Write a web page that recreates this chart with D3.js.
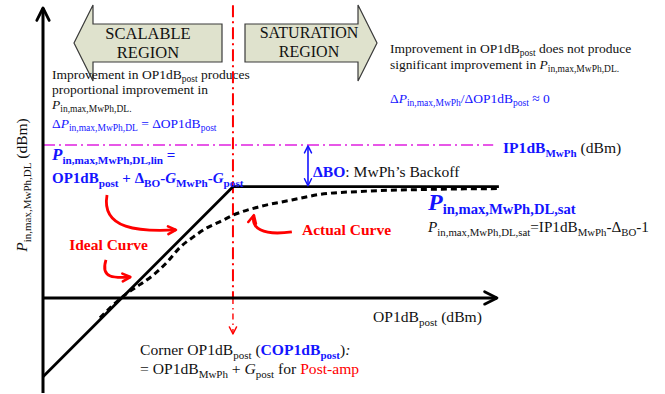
<!DOCTYPE html>
<html>
<head>
<meta charset="utf-8">
<script src="https://cdn.jsdelivr.net/npm/d3@7"></script>
<style>
  html, body { margin: 0; padding: 0; background: #fff; }
  svg { display: block; }
  svg text { font-family: "Liberation Serif", "Times New Roman", Tinos, "DejaVu Serif", serif; }
</style>
</head>
<body>
<svg id="chart" width="665" height="394"></svg>
<script>
// Axis extents (arbitrary dB units)
const opDomain = [0, 47.8];        // OP1dB_post axis
const pinDomain = [-10, 30.5];     // P_in,max,MwPh,DL axis

// Ideal (piecewise) transfer: linear region up to the corner, then flat
const idealOp  = [0, 20, 48];
const idealPin = [-8.3, 11.7, 11.7];

// Actual (soft-compressing) transfer
const actualOp  = [6.0, 8.6, 10.2, 11.6, 13.1, 14.4, 15.8, 17.3, 18.6, 20.0, 22.8, 26.2, 29.2, 33.4, 39.7, 47.9];
const actualPin = [-2.1, 0.3, 1.4, 2.4, 3.8, 5.3, 6.4, 7.4, 8.0, 8.7, 9.6, 10.3, 10.9, 11.2, 11.4, 11.5];

// Reference levels
const cornerOp = 20;      // COP1dB_post
const ip1dbLevel = 16.1;  // IP1dB_MwPh
const satLevel = 11.7;    // P_in,max,MwPh,DL,sat

const svg = d3.select("#chart");
const x = d3.scaleLinear().domain(opDomain).range([43, 497]);
const y = d3.scaleLinear().domain(pinDomain).range([393, 8]);

const BLUE = "#1414ff";
const RED = "#ff0000";
const MAGENTA = "#e020e0";

// ---------- markers ----------
const defs = svg.append("defs");
function chevron(id, color, size, sw) {
  defs.append("marker")
    .attr("id", id)
    .attr("viewBox", `0 0 ${size} ${size}`)
    .attr("refX", size - sw).attr("refY", size / 2)
    .attr("markerWidth", size).attr("markerHeight", size)
    .attr("markerUnits", "userSpaceOnUse")
    .attr("orient", "auto-start-reverse")
    .append("path")
    .attr("d", `M${sw},${sw} L${size - sw},${size / 2} L${sw},${size - sw}`)
    .attr("fill", "none").attr("stroke", color)
    .attr("stroke-width", sw).attr("stroke-linecap", "round").attr("stroke-linejoin", "round");
}
chevron("axArrow", "#000", 18, 2.8);
chevron("redArrow", RED, 13, 2.6);
chevron("redThin", RED, 10, 1.4);
chevron("blueArrow", BLUE, 10, 1.5);

// ---------- region banners ----------
function banner(x0, x1, dir) {
  // body 24..62, head 5..81, head length 19
  const top = 24, bot = 62, hTop = 5, hBot = 81, mid = 43, hl = 19;
  let pts;
  if (dir < 0) {
    pts = [[x0, mid], [x0 + hl, hTop], [x0 + hl, top], [x1, top], [x1, bot], [x0 + hl, bot], [x0 + hl, hBot]];
  } else {
    pts = [[x0, top], [x1 - hl, top], [x1 - hl, hTop], [x1, mid], [x1 - hl, hBot], [x1 - hl, bot], [x0, bot]];
  }
  svg.append("path")
    .attr("d", d3.line()(pts) + "Z")
    .attr("fill", "#dfe2cd").attr("stroke", "#3a3a3a").attr("stroke-width", 1.2);
}
banner(74, 222, -1);
banner(245, 377, 1);

function centered(xp, yp, str, fs) {
  svg.append("text").attr("x", xp).attr("y", yp)
    .attr("text-anchor", "middle")
    .attr("font-size", fs).attr("fill", "#111").text(str);
}
centered(148, 39, "SCALABLE", 16.5);
centered(148, 58, "REGION", 16.5);
centered(309, 38, "SATURATION", 16);
centered(309, 57, "REGION", 16);

// ---------- rich text helper ----------
function rich(xp, yp, parts, base, anchor, rotate) {
  const t = svg.append("text")
    .attr("font-size", base.fs)
    .attr("fill", base.c || "#111")
    .attr("text-anchor", anchor || "start");
  if (rotate) t.attr("transform", `translate(${xp},${yp}) rotate(${rotate})`);
  else t.attr("x", xp).attr("y", yp);
  let cur = 0;
  parts.forEach(p => {
    const fs = p.fs || (p.sub ? (base.sfs || base.fs * 0.72) : base.fs);
    const target = p.sub ? (base.off || base.fs * 0.22) : 0;
    const s = t.append("tspan").text(p.t)
      .attr("font-size", fs)
      .attr("dy", target - cur);
    cur = target;
    if (p.b || base.b) s.attr("font-weight", "bold");
    if (p.i) s.attr("font-style", "italic");
    if (p.c) s.attr("fill", p.c);
  });
  return t;
}

// ---------- explanatory paragraphs ----------
const para = { fs: 13.5, sfs: 9.5, off: 3 };
rich(52, 79, [{ t: "Improvement in OP1dB" }, { t: "post", sub: 1 }, { t: " produces" }], para);
rich(52, 94, [{ t: "proportional improvement in" }], para);
rich(52, 109, [{ t: "P", i: 1 }, { t: "in,max,MwPh,DL", sub: 1 }, { t: ".", sub: 1 }], para);
rich(52, 128, [{ t: "Δ" }, { t: "P", i: 1 }, { t: "in,max,MwPh,DL", sub: 1 }, { t: " = ΔOP1dB" }, { t: "post", sub: 1 }],
  Object.assign({ c: BLUE }, para));

rich(390, 53, [{ t: "Improvement in OP1dB" }, { t: "post", sub: 1 }, { t: " does not produce" }], para);
rich(390, 69, [{ t: "significant  improvement in " }, { t: "P", i: 1 }, { t: "in,max,MwPh,DL", sub: 1 }, { t: ".", sub: 1 }], para);
rich(390, 103, [{ t: "Δ" }, { t: "P", i: 1 }, { t: "in,max,MwPh", sub: 1 }, { t: "/ΔOP1dB" }, { t: "post", sub: 1 }, { t: " ≈ 0" }],
  Object.assign({ c: BLUE }, para));

// ---------- reference lines ----------
// IP1dB level (dash-dot)
svg.append("line")
  .attr("x1", x(0)).attr("x2", x(47.4))
  .attr("y1", y(ip1dbLevel)).attr("y2", y(ip1dbLevel))
  .attr("stroke", MAGENTA).attr("stroke-width", 1.5)
  .attr("stroke-dasharray", "12,4,2,4");

// corner OP1dB (dash-dot, red)
svg.append("line")
  .attr("x1", x(cornerOp)).attr("x2", x(cornerOp))
  .attr("y1", y(30.8)).attr("y2", y(0))
  .attr("stroke", RED).attr("stroke-width", 2)
  .attr("stroke-dasharray", "12,4,2,4");
svg.append("line")
  .attr("x1", x(cornerOp)).attr("x2", x(cornerOp))
  .attr("y1", y(0)).attr("y2", y(-3.8))
  .attr("stroke", RED).attr("stroke-width", 1.4)
  .attr("stroke-dasharray", "6,4,1.5,4")
  .attr("marker-end", "url(#redThin)");

// ---------- axes ----------
svg.append("line")
  .attr("x1", x(0)).attr("x2", x(0))
  .attr("y1", y(pinDomain[0])).attr("y2", y(pinDomain[1]))
  .attr("stroke", "#000").attr("stroke-width", 3)
  .attr("marker-end", "url(#axArrow)");
svg.append("line")
  .attr("x1", x(0)).attr("x2", x(opDomain[1]))
  .attr("y1", y(0)).attr("y2", y(0))
  .attr("stroke", "#000").attr("stroke-width", 3)
  .attr("marker-end", "url(#axArrow)");

// ---------- curves ----------
const line = d3.line().x(d => x(d[0])).y(d => y(d[1]));
svg.append("path")
  .attr("d", line(idealOp.map((v, i) => [v, idealPin[i]])))
  .attr("fill", "none").attr("stroke", "#000").attr("stroke-width", 2.8)
  .attr("stroke-linejoin", "round");

svg.append("path")
  .attr("d", line.curve(d3.curveMonotoneX)(actualOp.map((v, i) => [v, actualPin[i]])))
  .attr("fill", "none").attr("stroke", "#000").attr("stroke-width", 3)
  .attr("stroke-dasharray", "6,4");

// backoff double arrow
const boOp = 27.9;
svg.append("line")
  .attr("x1", x(boOp)).attr("x2", x(boOp))
  .attr("y1", y(ip1dbLevel) + 1).attr("y2", y(satLevel) - 1)
  .attr("stroke", BLUE).attr("stroke-width", 1.6)
  .attr("marker-start", "url(#blueArrow)")
  .attr("marker-end", "url(#blueArrow)");

// ---------- curved annotation arrows ----------
const pointers = [
  [[6.74, 10.84], [6.1, 7.2], [10.2, 6.95], [14.0, 7.16]],
  [[6.63, 4.0], [6.0, 2.0], [7.6, 2.1], [9.2, 2.2]],
  [[26.2, 6.95], [23.0, 6.5], [21.9, 7.4], [22.2, 8.7]]
];
pointers.forEach(p => {
  const q = p.map(d => [x(d[0]), y(d[1])]);
  svg.append("path")
    .attr("d", `M${q[0]}C${q[1]} ${q[2]} ${q[3]}`)
    .attr("fill", "none").attr("stroke", RED).attr("stroke-width", 2.8)
    .attr("marker-end", "url(#redArrow)");
});

// ---------- labels ----------
const lin = { fs: 15, sfs: 11.2, off: 4, b: 1, c: BLUE };
rich(52, 160, [{ t: "P", i: 1, fs: 17 }, { t: "in,max,MwPh,DL,lin", sub: 1 }, { t: " =" }], lin);
rich(52, 183, [{ t: "OP1dB" }, { t: "post", sub: 1 }, { t: " + Δ" }, { t: "BO", sub: 1 }, { t: "-" },
  { t: "G", i: 1 }, { t: "MwPh", sub: 1 }, { t: "-" }, { t: "G", i: 1 }, { t: "post", sub: 1 }], lin);

const lab = { fs: 15.6, sfs: 11, off: 3.5 };
rich(503, 153, [{ t: "IP1dB", b: 1, c: BLUE }, { t: "MwPh", sub: 1, b: 1, c: BLUE }, { t: " (dBm)" }], lab);
rich(313, 177, [{ t: "ΔBO", b: 1, c: BLUE }, { t: ": MwPh’s Backoff" }], lab);

rich(428, 210, [{ t: "P", i: 1, fs: 24 }, { t: "in,max,MwPh,DL,sat", sub: 1 }],
  { fs: 24, sfs: 14.6, off: 4, b: 1, c: BLUE });
rich(428, 232, [{ t: "P", i: 1 }, { t: "in,max,MwPh,DL,sat", sub: 1 }, { t: "=IP1dB" }, { t: "MwPh", sub: 1 },
  { t: "-Δ" }, { t: "BO", sub: 1 }, { t: "-1" }], { fs: 15.2, sfs: 10.8, off: 3.5 });

rich(302, 235, [{ t: "Actual Curve" }], { fs: 15.5, b: 1, c: RED });
rich(148, 250, [{ t: "Ideal Curve" }], { fs: 15.5, b: 1, c: RED }, "end");

rich(373, 322, [{ t: "OP1dB" }, { t: "post", sub: 1 }, { t: " (dBm)" }], lab);
rich(140, 355, [{ t: "Corner OP1dB" }, { t: "post", sub: 1 }, { t: " (" }, { t: "COP1dB", b: 1, c: BLUE },
  { t: "post", sub: 1, b: 1, c: BLUE }, { t: ")" }, { t: ":", i: 1 }], lab);
rich(140, 374, [{ t: "= OP1dB" }, { t: "MwPh", sub: 1 }, { t: " + " }, { t: "G", i: 1 }, { t: "post", sub: 1 },
  { t: " for " }, { t: "Post-amp", c: RED }], lab);

// y-axis title
rich(27, 185, [{ t: "P", i: 1 }, { t: "in,max,MwPh,DL", sub: 1 }, { t: " (dBm)" }], { fs: 15.5, sfs: 11, off: 3.5 }, "middle", -90);
</script>
</body>
</html>
